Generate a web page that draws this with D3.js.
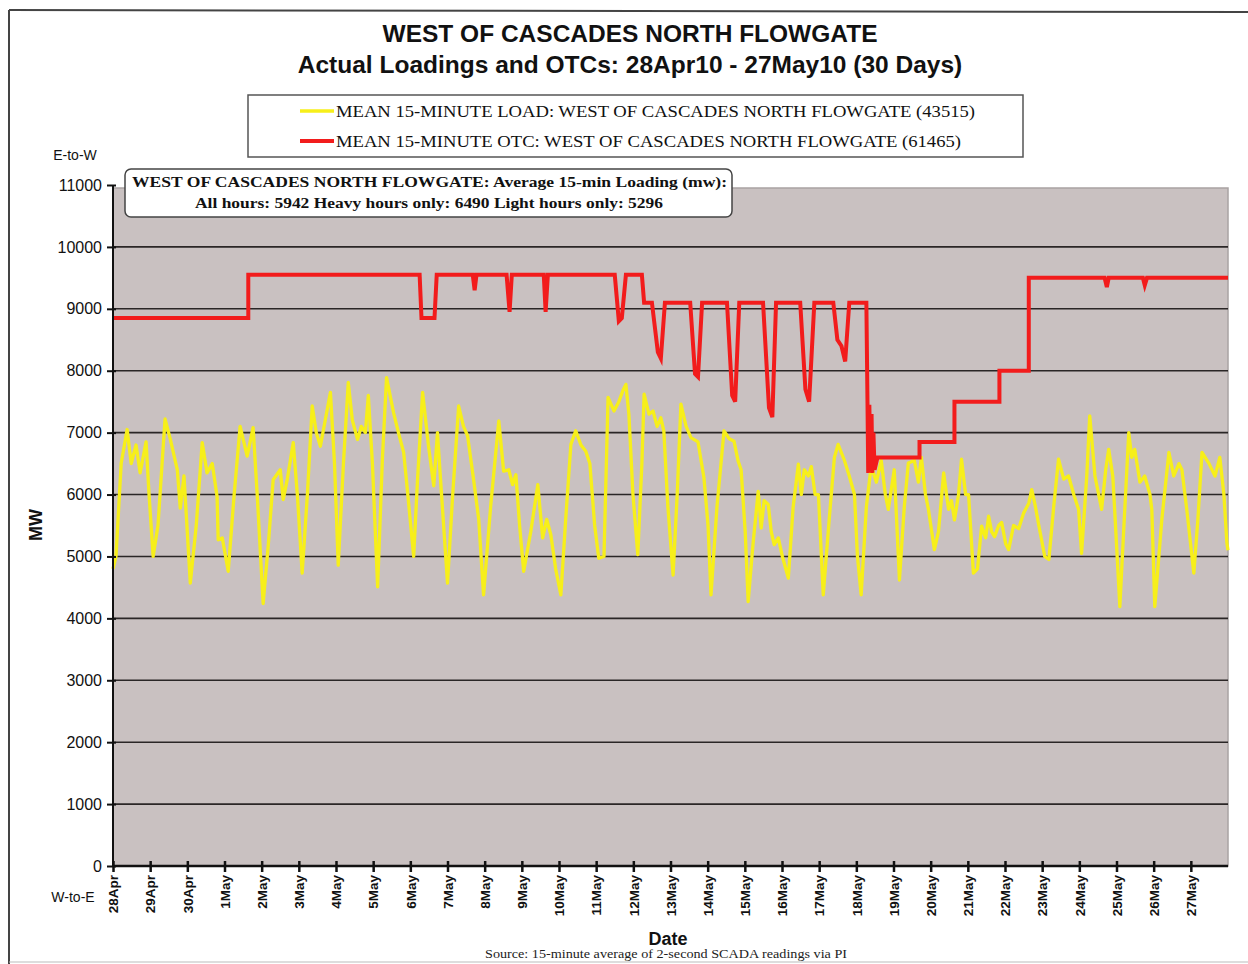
<!DOCTYPE html>
<html>
<head>
<meta charset="utf-8">
<script src="https://cdn.jsdelivr.net/npm/d3@7"></script>
<style>
  html, body { margin: 0; padding: 0; background: #fff; }
  svg { display: block; }
</style>
</head>
<body>
<svg id="chart" width="1248" height="964"></svg>
<script>
// ---------- DATA ----------
const titleLines = ["WEST OF CASCADES NORTH FLOWGATE", "Actual Loadings and OTCs: 28Apr10 - 27May10 (30 Days)"];
const legendLabels = ["MEAN 15-MINUTE LOAD: WEST OF CASCADES NORTH FLOWGATE (43515)",
                      "MEAN 15-MINUTE OTC: WEST OF CASCADES NORTH FLOWGATE (61465)"];
const noteLines = ["WEST OF CASCADES NORTH FLOWGATE: Average 15-min Loading (mw):",
                   "All hours: 5942 Heavy hours only: 6490 Light hours only: 5296"];
const dateLabels = ["28Apr","29Apr","30Apr","1May","2May","3May","4May","5May","6May","7May",
  "8May","9May","10May","11May","12May","13May","14May","15May","16May","17May",
  "18May","19May","20May","21May","22May","23May","24May","25May","26May","27May"];
const yTicks = [0,1000,2000,3000,4000,5000,6000,7000,8000,9000,10000,11000];

// Load (yellow): day offset from 28Apr 00:00, MW
const loadDay = [0.00,0.08,0.22,0.38,0.49,0.62,0.73,0.89,0.97,1.08,1.21,1.40,1.54,1.73,1.81,1.91,2.08,2.24,2.40,2.53,
  2.67,2.80,2.83,2.94,3.10,3.26,3.42,3.61,3.77,3.88,4.04,4.18,4.31,4.50,4.58,4.69,4.85,4.96,5.09,5.23,
  5.36,5.47,5.58,5.71,5.85,5.96,6.06,6.20,6.33,6.44,6.58,6.68,6.79,6.87,6.98,7.12,7.25,7.36,7.55,7.68,
  7.82,7.90,8.09,8.19,8.33,8.49,8.63,8.73,8.84,9.00,9.14,9.30,9.43,9.54,9.70,9.84,9.97,10.16,10.38,10.51,
  10.65,10.75,10.84,10.94,11.05,11.24,11.43,11.56,11.67,11.78,11.91,12.05,12.18,12.32,12.45,12.59,12.72,12.83,12.96,13.07,
  13.21,13.32,13.48,13.61,13.72,13.80,13.88,13.99,14.12,14.23,14.29,14.42,14.53,14.64,14.74,14.82,14.93,15.07,15.18,15.28,
  15.42,15.55,15.74,15.90,16.01,16.09,16.25,16.44,16.58,16.71,16.82,16.90,17.01,17.09,17.22,17.36,17.44,17.52,17.63,17.71,
  17.79,17.90,18.01,18.17,18.30,18.44,18.52,18.60,18.71,18.79,18.89,18.98,19.11,19.27,19.41,19.51,19.68,19.81,19.95,20.03,
  20.13,20.27,20.40,20.54,20.67,20.78,20.86,21.02,21.16,21.29,21.40,21.56,21.67,21.75,21.86,21.94,22.10,22.21,22.35,22.48,
  22.56,22.64,22.75,22.83,22.94,23.02,23.15,23.26,23.37,23.48,23.56,23.64,23.72,23.83,23.91,24.02,24.10,24.23,24.37,24.50,
  24.64,24.72,24.82,24.91,25.07,25.18,25.31,25.44,25.58,25.71,25.85,25.98,26.06,26.20,26.28,26.42,26.52,26.60,26.71,26.79,
  26.90,26.95,27.09,27.20,27.33,27.41,27.49,27.63,27.76,27.90,27.95,28.03,28.22,28.41,28.54,28.68,28.76,28.89,29.08,29.19,
  29.30,29.49,29.65,29.78,29.89,29.97,30.00];
const loadMW = [4800,5000,6500,7050,6500,6800,6350,6850,6000,5000,5500,7220,6900,6400,5780,6300,4570,5500,6840,6350,
  6500,5970,5270,5300,4760,6000,7100,6620,7080,6000,4240,5200,6240,6400,5920,6250,6840,6000,4730,6000,
  7430,7000,6780,7200,7650,6500,4860,6500,7810,7200,6890,7100,7000,7600,6500,4510,6600,7890,7320,7000,
  6680,6200,5000,6200,7650,6780,6140,7000,6000,4570,6000,7430,7100,6950,6250,5600,4380,5800,7190,6380,
  6400,6160,6320,5500,4760,5400,6160,5300,5600,5350,4800,4380,5600,6810,7030,6800,6700,6500,5500,4970,
  5000,7570,7350,7500,7680,7780,7300,6000,5030,6500,7620,7300,7350,7100,7240,7030,5800,4700,6000,7460,
  7100,6920,6850,6270,5500,4380,5800,7030,6900,6860,6540,6400,5400,4270,5200,6050,5460,5900,5840,5400,
  5190,5300,5000,4650,5800,6490,6000,6400,6300,6450,6000,6000,4380,5600,6600,6810,6550,6300,6000,5000,
  4380,5800,6460,6200,6550,6000,5760,6400,4620,5800,6510,6550,6200,6600,6000,5760,5110,5400,6350,5760,
  5900,5590,6000,6570,6000,6000,4730,4800,5490,5300,5650,5400,5320,5500,5550,5200,5110,5500,5450,5700,
  5860,6080,5800,5500,5000,4950,5800,6570,6250,6300,6000,5760,5050,6300,7270,6300,6000,5760,6400,6730,
  6300,5760,4190,5500,7000,6600,6730,6200,6300,6000,5760,4190,5600,6680,6300,6500,6400,5760,4730,5600,
  6680,6500,6300,6600,6000,5220,5100];

// OTC (red): day offset, MW
const otcDay = [0.00,3.64,3.64,8.25,8.30,8.65,8.71,9.68,9.73,9.78,10.59,10.67,10.73,11.59,11.64,11.70,
  13.50,13.61,13.69,13.80,14.23,14.29,14.50,14.66,14.74,14.85,15.53,15.66,15.74,15.85,16.52,16.66,16.74,16.85,
  17.49,17.65,17.74,17.84,18.49,18.63,18.73,18.87,19.38,19.49,19.60,19.70,19.81,20.27,20.30,20.32,20.35,20.38,
  20.41,20.43,20.46,20.49,20.57,21.70,21.70,22.64,22.64,23.85,23.85,24.64,24.64,26.68,26.74,26.79,27.71,27.76,27.82,30.00];
const otcMW = [8850,8850,9550,9550,8850,8850,9550,9550,9300,9550,9550,8950,9550,9550,8950,9550,
  9550,8800,8850,9550,9550,9100,9100,8300,8200,9100,9100,7950,7900,9100,9100,7600,7500,9100,
  9100,7400,7250,9100,9100,7700,7500,9100,9100,8500,8400,8150,9100,9100,7500,6350,7450,6400,
  7300,6350,7000,6400,6600,6600,6850,6850,7500,7500,8000,8000,9500,9500,9350,9500,9500,9380,9500,9500];

// ---------- LAYOUT ----------
const svg = d3.select("#chart");
const X0 = 113, X1 = 1228, Y0 = 866, Y1 = 185;
const x = d3.scaleLinear().domain([0, 30]).range([X0, X1]);
const y = d3.scaleLinear().domain([0, 11000]).range([Y0, Y1]);
const SANS = "Liberation Sans, Arial, sans-serif";
const SERIF = "Liberation Serif, Times New Roman, serif";

// outer frame
svg.append("line").attr("x1", 9).attr("x2", 1248).attr("y1", 10).attr("y2", 12)
  .attr("stroke", "#444").attr("stroke-width", 2);
svg.append("line").attr("x1", 9).attr("x2", 9).attr("y1", 10).attr("y2", 964)
  .attr("stroke", "#444").attr("stroke-width", 2);
svg.append("line").attr("x1", 9).attr("x2", 1248).attr("y1", 962).attr("y2", 962)
  .attr("stroke", "#bbb").attr("stroke-width", 1);

// titles
svg.append("text").attr("x", 630).attr("y", 42).attr("text-anchor", "middle")
  .attr("font-family", SANS).attr("font-weight", "bold")
  .attr("font-size", 24.5).attr("fill", "#111").text(titleLines[0]);
svg.append("text").attr("x", 630).attr("y", 73).attr("text-anchor", "middle")
  .attr("font-family", SANS).attr("font-weight", "bold")
  .attr("font-size", 24.5).attr("fill", "#111").text(titleLines[1]);

// plot background
svg.append("rect").attr("x", X0).attr("y", y(11000) + 3).attr("width", X1 - X0).attr("height", Y0 - y(11000) - 3)
  .attr("fill", "#c9c1c1").attr("stroke", "#a9a3a3").attr("stroke-width", 1.5);

// gridlines
svg.append("g").selectAll("line").data(yTicks.filter(v => v > 0 && v < 11000)).join("line")
  .attr("x1", X0).attr("x2", X1).attr("y1", d => y(d)).attr("y2", d => y(d))
  .attr("stroke", "#2a2626").attr("stroke-width", 1.6);

// series
const loadPts = loadDay.map((d, i) => [d, loadMW[i]]);
const otcPts = otcDay.map((d, i) => [d, otcMW[i]]);
const line = d3.line().x(d => x(d[0])).y(d => y(d[1]));
svg.append("path").datum(loadPts).attr("d", line).attr("fill", "none")
  .attr("stroke", "#f7ef1a").attr("stroke-width", 3.3).attr("stroke-linejoin", "round");
svg.append("path").datum(otcPts).attr("d", line).attr("fill", "none")
  .attr("stroke", "#f21c1c").attr("stroke-width", 4).attr("stroke-linejoin", "miter");

// y axis
const yAxis = d3.axisLeft(y).tickValues(yTicks).tickSize(6).tickPadding(5).tickFormat(d3.format("d"));
const gy = svg.append("g").attr("transform", `translate(${X0},0)`).call(yAxis);
gy.select(".domain").attr("stroke", "#111").attr("stroke-width", 2).attr("d", `M0,${Y0}V${Y1}`);
gy.selectAll(".tick line").attr("x1", -6).attr("x2", 3).attr("stroke", "#111").attr("stroke-width", 2);
gy.selectAll(".tick text").attr("font-family", SANS)
  .attr("font-size", 16).attr("fill", "#111").attr("x", -11);

// x axis
const xAxis = d3.axisBottom(x).tickValues(d3.range(0, 30)).tickSize(6).tickFormat(d => dateLabels[d]);
const gx = svg.append("g").attr("transform", `translate(0,${Y0})`).call(xAxis);
gx.select(".domain").attr("stroke", "#111").attr("stroke-width", 2.5).attr("d", `M${X0},0H${X1}`);
gx.selectAll(".tick line").attr("y1", -5).attr("y2", 6).attr("stroke", "#111").attr("stroke-width", 2.5);
gx.selectAll(".tick text")
  .attr("font-family", SANS).attr("font-weight", "bold")
  .attr("font-size", 13.5).attr("fill", "#111")
  .attr("transform", "rotate(-90)").attr("x", -9).attr("y", 0).attr("dy", "0.35em")
  .attr("text-anchor", "end");

// axis side labels
svg.append("text").attr("x", 75).attr("y", 160).attr("text-anchor", "middle")
  .attr("font-family", SANS).attr("font-size", 14).attr("fill", "#111").text("E-to-W");
svg.append("text").attr("x", 73).attr("y", 902).attr("text-anchor", "middle")
  .attr("font-family", SANS).attr("font-size", 14).attr("fill", "#111").text("W-to-E");
svg.append("text").attr("transform", "translate(42,525) rotate(-90)").attr("text-anchor", "middle")
  .attr("font-family", SANS).attr("font-weight", "bold")
  .attr("font-size", 18).attr("fill", "#111").text("MW");
svg.append("text").attr("x", 668).attr("y", 945).attr("text-anchor", "middle")
  .attr("font-family", SANS).attr("font-weight", "bold")
  .attr("font-size", 18).attr("fill", "#111").text("Date");
svg.append("text").attr("x", 485).attr("y", 958)
  .attr("font-family", SERIF).attr("font-size", 12.5).attr("fill", "#222")
  .attr("textLength", 362).attr("lengthAdjust", "spacingAndGlyphs")
  .text("Source: 15-minute average of 2-second SCADA readings via PI");

// legend
svg.append("rect").attr("x", 248).attr("y", 95).attr("width", 775).attr("height", 62)
  .attr("fill", "#fff").attr("stroke", "#555").attr("stroke-width", 1.5);
const legColors = ["#f7ef1a", "#f21c1c"];
const legLens = [639, 625];
legendLabels.forEach((t, i) => {
  const ly = 111 + i * 30;
  svg.append("line").attr("x1", 300).attr("x2", 334).attr("y1", ly).attr("y2", ly)
    .attr("stroke", legColors[i]).attr("stroke-width", i === 0 ? 3.3 : 4);
  svg.append("text").attr("x", 336).attr("y", ly + 6)
    .attr("font-family", SERIF).attr("font-size", 16.5)
    .attr("fill", "#111").attr("textLength", legLens[i]).attr("lengthAdjust", "spacingAndGlyphs").text(t);
});

// annotation box
svg.append("rect").attr("x", 125).attr("y", 169).attr("width", 607).attr("height", 48).attr("rx", 6)
  .attr("fill", "#fff").attr("stroke", "#444").attr("stroke-width", 1.5);
svg.append("text").attr("x", 132).attr("y", 187)
  .attr("font-family", SERIF).attr("font-weight", "bold")
  .attr("font-size", 15.5).attr("fill", "#111").attr("textLength", 595).attr("lengthAdjust", "spacingAndGlyphs")
  .text(noteLines[0]);
svg.append("text").attr("x", 195).attr("y", 208)
  .attr("font-family", SERIF).attr("font-weight", "bold")
  .attr("font-size", 15.5).attr("fill", "#111").attr("textLength", 468).attr("lengthAdjust", "spacingAndGlyphs")
  .text(noteLines[1]);
</script>
</body>
</html>
